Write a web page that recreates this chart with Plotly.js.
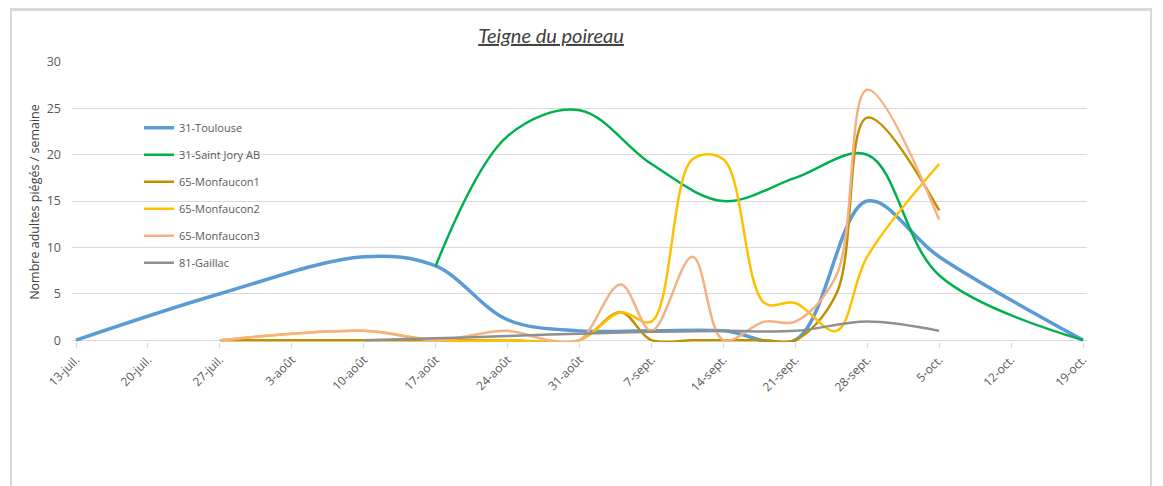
<!DOCTYPE html>
<html>
<head>
<meta charset="utf-8">
<script src="https://cdn.plot.ly/plotly-3.0.1.min.js"></script>
<style>
  html, body { margin: 0; padding: 0; background: #ffffff; }
  #frame { position: absolute; left: 10px; top: 8px; width: 1138px; height: 490px;
           border-top: 3px solid #d9d9d9; border-left: 2px solid #d9d9d9; border-right: 2px solid #d9d9d9; }
  #chart { position: absolute; left: 0; top: 0; width: 1163px; height: 486px; }
</style>
</head>
<body>
<div id="frame"></div>
<div id="chart"></div>
<script>
// ---- Data ----
const toulouseDates = ['2020-07-13','2020-07-27','2020-08-10','2020-08-17','2020-08-24','2020-08-31','2020-09-07','2020-09-14','2020-09-21','2020-09-28','2020-10-05','2020-10-19'];
const toulouseValues = [0, 5, 9, 8, 2.2, 1, 1, 1, 0, 15, 9, 0];

const saintJoryDates = ['2020-08-17','2020-08-24','2020-08-31','2020-09-07','2020-09-14','2020-09-21','2020-09-28','2020-10-05','2020-10-19'];
const saintJoryValues = [8, 22, 24.8, 19, 15, 17.5, 20, 7, 0];

const monfaucon1Dates = ['2020-07-27','2020-08-03','2020-08-10','2020-08-17','2020-08-24','2020-08-31','2020-09-04','2020-09-07','2020-09-11','2020-09-14','2020-09-18','2020-09-21','2020-09-25','2020-09-28','2020-10-05'];
const monfaucon1Values = [0, 0, 0, 0, 0, 0, 3, 0, 0, 0, 0, 0, 5, 24, 14];

const monfaucon2Dates = ['2020-07-27','2020-08-10','2020-08-17','2020-08-24','2020-08-31','2020-09-04','2020-09-07','2020-09-11','2020-09-14','2020-09-18','2020-09-21','2020-09-25','2020-09-28','2020-10-05'];
const monfaucon2Values = [0, 1, 0, 0, 0, 3, 2, 19.5, 19.5, 4, 4, 1, 9, 19];

const monfaucon3Dates = ['2020-07-27','2020-08-10','2020-08-17','2020-08-24','2020-08-28','2020-08-31','2020-09-04','2020-09-07','2020-09-11','2020-09-14','2020-09-18','2020-09-21','2020-09-25','2020-09-28','2020-10-05'];
const monfaucon3Values = [0, 1, 0, 1, 0, 0, 6, 1, 9, 0, 2, 2, 7, 27, 13];

const gaillacDates = ['2020-08-10','2020-08-17','2020-08-24','2020-08-31','2020-09-07','2020-09-14','2020-09-21','2020-09-28','2020-10-05'];
const gaillacValues = [0, 0.2, 0.45, 0.7, 0.9, 1, 1, 2, 1];

const seriesNames = ['31-Toulouse','31-Saint Jory AB','65-Monfaucon1','65-Monfaucon2','65-Monfaucon3','81-Gaillac'];

const tickDates = ['2020-07-13','2020-07-20','2020-07-27','2020-08-03','2020-08-10','2020-08-17','2020-08-24','2020-08-31','2020-09-07','2020-09-14','2020-09-21','2020-09-28','2020-10-05','2020-10-12','2020-10-19'];
const tickLabels = ['13-juil.','20-juil.','27-juil.','3-août','10-août','17-août','24-août','31-août','7-sept.','14-sept.','21-sept.','28-sept.','5-oct.','12-oct.','19-oct.'];

const chartTitle = 'Teigne du poireau';
const yTitle = 'Nombre adultes piégés / semaine';

// ---- Styling ----
const FONT = '"Open Sans", "Noto Sans", sans-serif';
const TFONT = 'Lato, "Open Sans", sans-serif';
const colors = ['#5B9BD5','#00B050','#BF9000','#FFC000','#F4B183','#8F8F8F'];
const widths = [3.5, 2.5, 2.5, 2.5, 2.5, 2.5];

const xs = [toulouseDates, saintJoryDates, monfaucon1Dates, monfaucon2Dates, monfaucon3Dates, gaillacDates];
const ys = [toulouseValues, saintJoryValues, monfaucon1Values, monfaucon2Values, monfaucon3Values, gaillacValues];

const traces = seriesNames.map((name, i) => ({
  type: 'scatter',
  mode: 'lines',
  name: name,
  x: xs[i],
  y: ys[i],
  legendgroup: 'g' + i,
  line: { color: colors[i], width: widths[i], shape: 'spline', smoothing: 1 },
  hoverinfo: 'x+y+name'
}));

const layout = {
  width: 1163,
  height: 486,
  margin: { l: 72, r: 76, t: 62, b: 144 },
  paper_bgcolor: 'rgba(0,0,0,0)',
  plot_bgcolor: 'rgba(0,0,0,0)',
  font: { family: FONT, size: 12, color: '#595959' },
  title: {
    text: '<i><u>' + chartTitle + '</u></i>',
    font: { family: TFONT, size: 20, color: '#404040' },
    xref: 'paper', x: 0.472, xanchor: 'center',
    yref: 'container', y: 0.926, yanchor: 'middle'
  },
  xaxis: {
    type: 'date',
    range: ['2020-07-12 14:40', '2020-10-19 09:20'],
    tickmode: 'array',
    tickvals: tickDates,
    ticktext: tickLabels,
    tickangle: -45,
    ticks: 'outside',
    ticklen: 5,
    tickcolor: '#d9d9d9',
    showgrid: false,
    showline: false,
    zeroline: false,
    tickfont: { family: FONT, size: 12, color: '#595959' }
  },
  yaxis: {
    range: [-0.2, 30],
    tickvals: [0, 5, 10, 15, 20, 25, 30],
    showgrid: true,
    gridcolor: '#d9d9d9',
    gridwidth: 1,
    zeroline: false,
    showline: false,
    ticks: '',
    ticklabelstandoff: 10,
    tickfont: { family: FONT, size: 12.5, color: '#595959' },
    title: { text: yTitle, font: { family: FONT, size: 12.5, color: '#404040' }, standoff: 4 }
  },
  showlegend: true,
  legend: {
    x: 0.066, xanchor: 'left',
    y: 0.817, yanchor: 'top',
    bgcolor: 'rgba(255,255,255,0)',
    font: { family: FONT, size: 11, color: '#595959' },
    tracegroupgap: 8,
    itemwidth: 30
  },
  hovermode: 'closest'
};

Plotly.newPlot('chart', traces, layout, { displayModeBar: false, staticPlot: false });
</script>
</body>
</html>
